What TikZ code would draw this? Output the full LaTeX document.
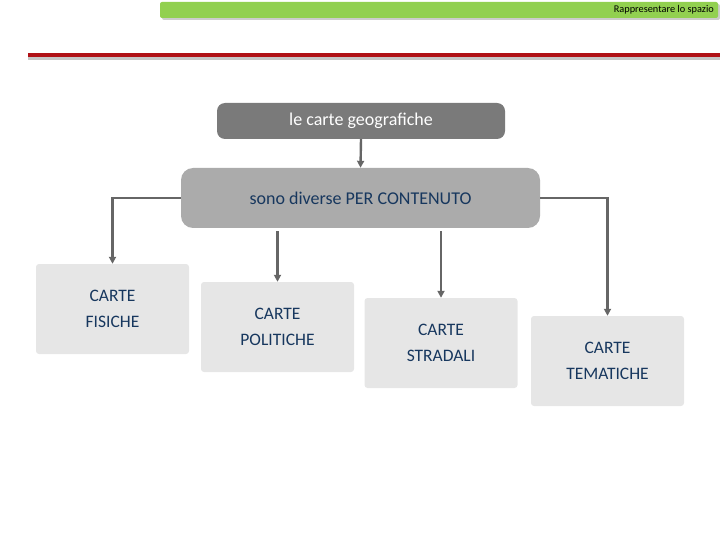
\documentclass[tikz,border=0pt]{standalone}
\usepackage{fontspec}
\setmainfont{Carlito}
\usetikzlibrary{arrows.meta,positioning}
\definecolor{barGreen}{HTML}{92D050}
\definecolor{lineRed}{HTML}{B01116}
\definecolor{headGray}{HTML}{7A7A7A}
\definecolor{midGray}{HTML}{ABABAB}
\definecolor{boxGray}{HTML}{E6E6E6}
\definecolor{textBlue}{HTML}{17375E}
\definecolor{arrowGray}{HTML}{666666}
\tikzset{
  kindbox/.style={fill=boxGray,rounded corners=3pt,minimum width=153pt,minimum height=90pt,
    align=center,text=textBlue,font=\fontsize{17.5}{26}\selectfont,inner sep=0pt},
  link/.style={draw=arrowGray,line width=2.4pt,-{Triangle[length=7pt,width=7pt]}}
}
\begin{document}
\begin{tikzpicture}[x=1pt,y=-1pt]
  \useasboundingbox (0,0) rectangle (720,540);
  % header
  \fill[gray!40,rounded corners=2pt] (162,4) rectangle (720,20);
  \fill[barGreen,rounded corners=2pt] (160,2) rectangle (718,18);
  \node[anchor=east,font=\fontsize{10.3}{11}\selectfont,inner sep=0pt] (title) at (714,10) {Rappresentare lo spazio};
  \fill[gray!45] (28,57) rectangle (720,60);
  \fill[lineRed] (28,53) rectangle (720,57);
  % boxes
  \node[fill=headGray,rounded corners=8pt,minimum width=288pt,minimum height=36pt,
    text=white,font=\fontsize{18}{20}\selectfont] (geo) at (361,121) {le carte geografiche};
  \node[fill=midGray,rounded corners=12pt,minimum width=359pt,minimum height=60pt,
    text=textBlue,font=\fontsize{18}{20}\selectfont] (cont) at (360.5,198) {sono diverse PER CONTENUTO};
  \node[kindbox] (fis) at (112.5,309) {CARTE\\FISICHE};
  \node[kindbox] (pol) at (277.5,327) {CARTE\\POLITICHE};
  \node[kindbox] (str) at (441,343) {CARTE\\STRADALI};
  \node[kindbox] (tem) at (607.5,361) {CARTE\\TEMATICHE};
  % connectors
  \draw[link] (geo.south) -- (cont.north);
  \draw[link] (cont.west) -| (fis.north);
  \draw[link,shorten <=3pt] (pol.north |- cont.south) -- (pol.north);
  \draw[link,shorten <=3pt] (str.north |- cont.south) -- (str.north);
  \draw[link] (cont.east) -| (tem.north);
\end{tikzpicture}
\end{document}
